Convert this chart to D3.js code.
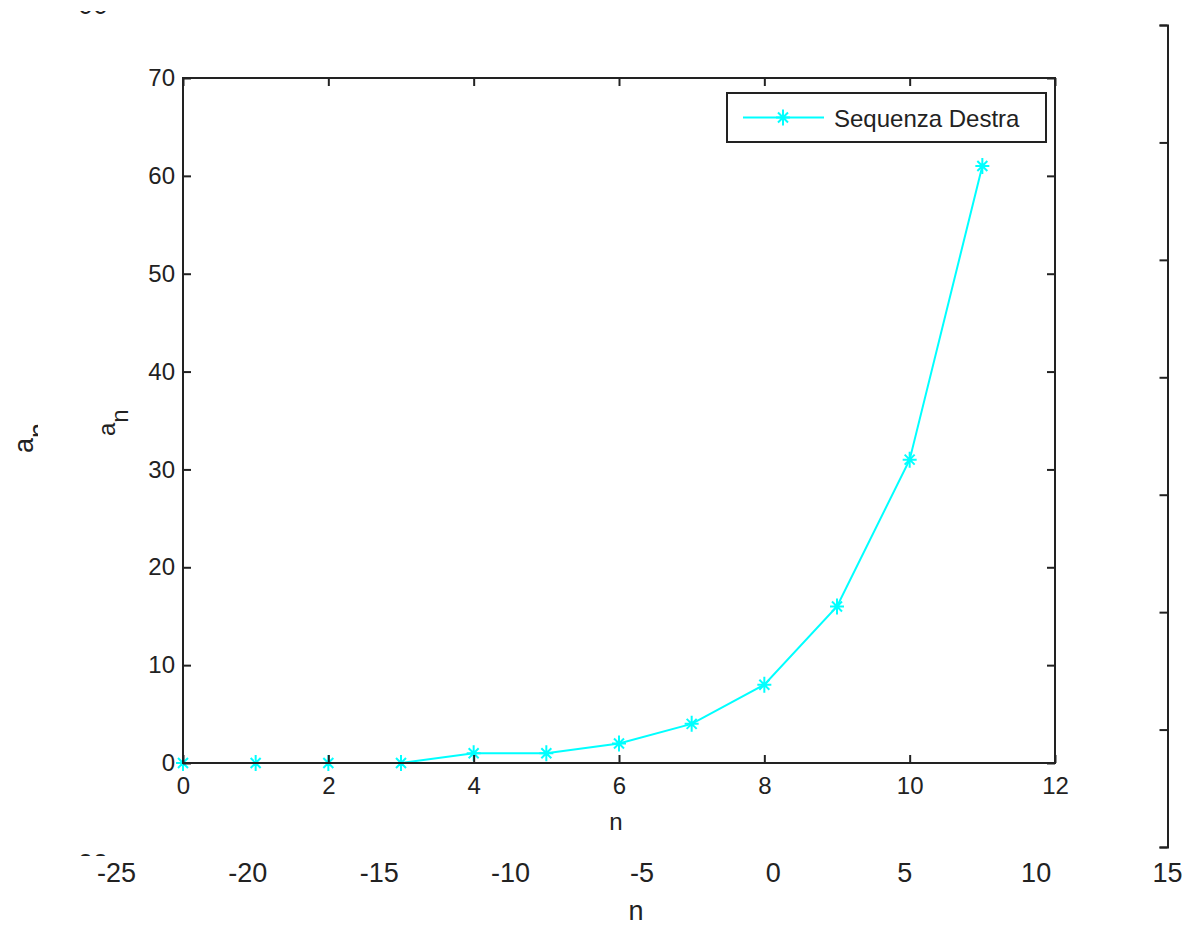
<!DOCTYPE html>
<html>
<head>
<meta charset="utf-8">
<script src="https://cdn.jsdelivr.net/npm/d3@7/dist/d3.min.js"></script>
<style>
  body { margin: 0; background: #fff; }
  svg { display: block; }
  text { font-family: "Liberation Sans", Arial, sans-serif; fill: #222; }
</style>
</head>
<body>
<div class="canvas"></div>
<script>
// data
const nValues = [0, 1, 2, 3, 4, 5, 6, 7, 8, 9, 10, 11];
const anValues = [0, 0, 0, 0, 1, 1, 2, 4, 8, 16, 31, 61];
const seriesName = 'Sequenza Destra';
const xTicks = [0, 2, 4, 6, 8, 10, 12];
const yTicks = [0, 10, 20, 30, 40, 50, 60, 70];
const backXTicks = [-25, -20, -15, -10, -5, 0, 5, 10, 15];
const backYTicks = [0, 10, 20, 30, 40, 50, 60, 70];

const dims = { width: 1183, height: 927 };
const ink = '#222';
const cyan = '#00ffff';
const frontFont = '24px';
const backFont = '27px';

const svg = d3
  .select('.canvas')
  .append('svg')
  .attr('width', dims.width)
  .attr('height', dims.height);

// background axes (mostly hidden behind the front one)
const xb = d3.scaleLinear().domain([-25, 15]).range([116, 1167]);
const yb = d3.scaleLinear().domain([0, 70]).range([847, 25]);

const back = svg.append('g').attr('class', 'back');

const backRight = back
  .append('g')
  .attr('transform', 'translate(1167.5, 0)')
  .call(d3.axisLeft(yb).tickValues(backYTicks).tickSize(8).tickFormat(''));
backRight.selectAll('path, line').attr('stroke', ink).attr('stroke-width', 2);

const backBottom = back
  .append('g')
  .attr('transform', 'translate(0, 847)')
  .call(
    d3.axisBottom(xb)
      .tickValues(backXTicks)
      .tickSize(0)
      .tickPadding(16)
      .tickFormat((d) => String(d))
  );
backBottom.select('.domain').remove();
backBottom.selectAll('text').style('font-size', backFont).attr('fill', ink);

back
  .append('text')
  .attr('x', 636)
  .attr('y', 911)
  .attr('text-anchor', 'middle')
  .attr('dominant-baseline', 'central')
  .style('font-size', backFont)
  .text('n');

// clipped leftovers of the hidden labels
const defs = svg.append('defs');
defs.append('clipPath').attr('id', 'clipLeft')
  .append('rect').attr('x', 0).attr('y', 0).attr('width', 38).attr('height', dims.height);
defs.append('clipPath').attr('id', 'clipTop')
  .append('rect').attr('x', 0).attr('y', 11).attr('width', 150).attr('height', 4);
defs.append('clipPath').attr('id', 'clipBottom')
  .append('rect').attr('x', 0).attr('y', 852).attr('width', 150).attr('height', 4);

const backYLabel = back
  .append('g')
  .attr('clip-path', 'url(#clipLeft)')
  .append('text')
  .attr('transform', 'translate(33, 453) rotate(-90)')
  .attr('text-anchor', 'start')
  .style('font-size', backFont);
backYLabel.append('tspan').text('a');
backYLabel.append('tspan').attr('dy', 15).text('n');

back.append('g')
  .attr('clip-path', 'url(#clipTop)')
  .append('text')
  .attr('x', 78).attr('y', 14)
  .style('font-size', backFont)
  .text('00');
back.append('g')
  .attr('clip-path', 'url(#clipBottom)')
  .append('text')
  .attr('x', 78).attr('y', 872.5)
  .style('font-size', backFont)
  .text('00');

// front axes
const x = d3.scaleLinear().domain([0, 12]).range([183, 1055]);
const y = d3.scaleLinear().domain([0, 70]).range([763, 78]);

const front = svg.append('g').attr('class', 'front');

front
  .append('rect')
  .attr('x', x(0))
  .attr('y', y(70))
  .attr('width', x(12) - x(0))
  .attr('height', y(0) - y(70))
  .attr('fill', '#fff');

const line = d3
  .line()
  .x((d, i) => x(nValues[i]))
  .y((d) => y(d));

front
  .append('path')
  .datum(anValues)
  .attr('d', line)
  .attr('fill', 'none')
  .attr('stroke', cyan)
  .attr('stroke-width', 2);

const starPath = 'M0,-8V8M-7,0H7M-5,-5L5,5M-5,5L5,-5';

front
  .selectAll('.marker')
  .data(anValues)
  .enter()
  .append('path')
  .attr('class', 'marker')
  .attr('transform', (d, i) => `translate(${x(nValues[i])}, ${y(d)})`)
  .attr('d', starPath)
  .attr('fill', 'none')
  .attr('stroke', cyan)
  .attr('stroke-width', 2);

const styleAxis = (g) => {
  g.select('.domain').remove();
  g.selectAll('line').attr('stroke', ink).attr('stroke-width', 2);
  g.selectAll('text').style('font-size', frontFont).attr('fill', ink);
};

front
  .append('g')
  .attr('transform', `translate(0, ${y(0)})`)
  .call(d3.axisBottom(x).tickValues(xTicks).tickSizeInner(-8).tickSizeOuter(0).tickPadding(14))
  .call(styleAxis);

front
  .append('g')
  .attr('transform', `translate(0, ${y(70)})`)
  .call(d3.axisTop(x).tickValues(xTicks).tickSizeInner(-8).tickSizeOuter(0).tickFormat(''))
  .call(styleAxis);

front
  .append('g')
  .attr('transform', `translate(${x(0)}, 0)`)
  .call(d3.axisLeft(y).tickValues(yTicks).tickSizeInner(-8).tickSizeOuter(0).tickPadding(8))
  .call(styleAxis);

front
  .append('g')
  .attr('transform', `translate(${x(12)}, 0)`)
  .call(d3.axisRight(y).tickValues(yTicks).tickSizeInner(-8).tickSizeOuter(0).tickFormat(''))
  .call(styleAxis);

front
  .append('rect')
  .attr('x', x(0))
  .attr('y', y(70))
  .attr('width', x(12) - x(0))
  .attr('height', y(0) - y(70))
  .attr('fill', 'none')
  .attr('stroke', ink)
  .attr('stroke-width', 2);

front
  .append('text')
  .attr('x', 616)
  .attr('y', 821)
  .attr('text-anchor', 'middle')
  .attr('dominant-baseline', 'central')
  .style('font-size', frontFont)
  .text('n');

const yLabel = front
  .append('text')
  .attr('transform', 'translate(115, 436) rotate(-90)')
  .attr('text-anchor', 'start')
  .style('font-size', frontFont);
yLabel.append('tspan').text('a');
yLabel.append('tspan').attr('dy', 13).text('n');

// legend
const legend = svg.append('g').attr('transform', 'translate(727, 93)');

legend
  .append('rect')
  .attr('width', 319)
  .attr('height', 49)
  .attr('fill', '#fff')
  .attr('stroke', ink)
  .attr('stroke-width', 2);

legend
  .append('line')
  .attr('x1', 16)
  .attr('x2', 97)
  .attr('y1', 24.5)
  .attr('y2', 24.5)
  .attr('stroke', cyan)
  .attr('stroke-width', 2);

legend
  .append('path')
  .attr('transform', 'translate(56, 24.5)')
  .attr('d', starPath)
  .attr('fill', 'none')
  .attr('stroke', cyan)
  .attr('stroke-width', 2);

legend
  .append('text')
  .attr('x', 107)
  .attr('y', 25)
  .attr('dominant-baseline', 'central')
  .style('font-size', frontFont)
  .text(seriesName);
</script>
</body>
</html>
